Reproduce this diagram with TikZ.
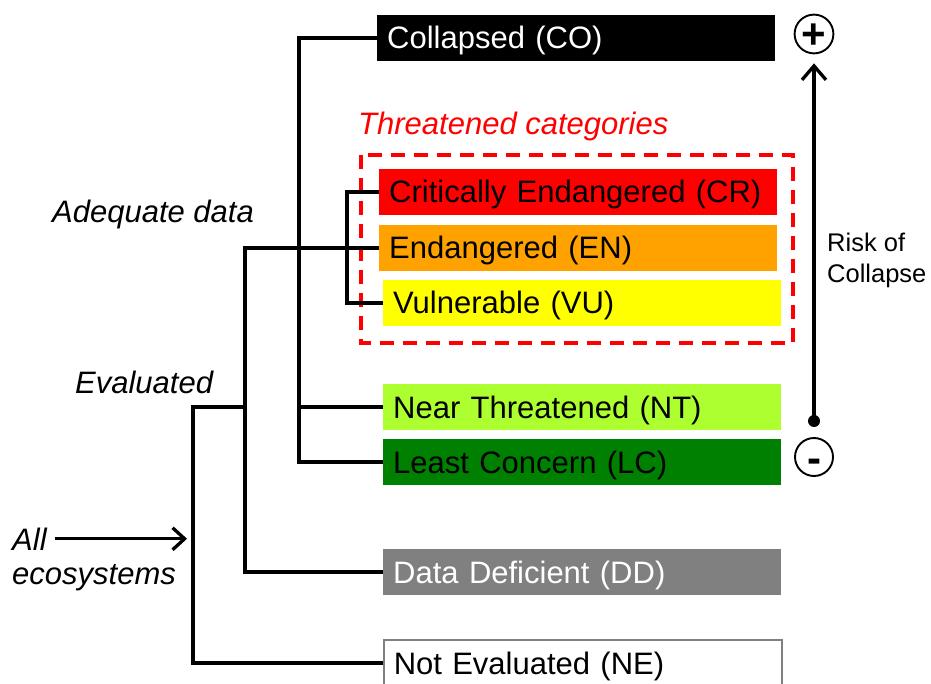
\documentclass[tikz,border=0pt]{standalone}
\usepackage{fontspec}
\setmainfont{Liberation Sans}
\usetikzlibrary{arrows.meta}
\definecolor{crcol}{RGB}{255,0,0}
\definecolor{encol}{RGB}{255,162,0}
\definecolor{vucol}{RGB}{255,255,0}
\definecolor{ntcol}{RGB}{173,255,47}
\definecolor{lccol}{RGB}{0,128,0}
\definecolor{ddcol}{RGB}{128,128,128}
\begin{document}
\begin{tikzpicture}[x=1pt,y=-1pt,
  cat/.style={rectangle, anchor=west, minimum width=398pt, minimum height=46pt,
    text width=378pt, inner xsep=10pt, inner ysep=0pt, align=left,
    text height=22pt, text depth=0pt,
    font=\fontsize{31}{36}\selectfont},
  lbl/.style={anchor=base west, inner sep=0pt, font=\fontsize{31}{36}\selectfont\itshape},
  risklbl/.style={anchor=base west, inner sep=0pt, font=\fontsize{25.5}{30}\selectfont},
  tree/.style={line width=3.3pt, line join=miter},
  pm/.style={circle, draw, line width=1.9pt, minimum size=38pt, inner sep=0pt,
    font=\fontsize{42}{44}\selectfont\bfseries, text depth=0pt},
]
\useasboundingbox (0,0) rectangle (931,684);

% category boxes
\node[cat, fill=black, text=white] (co) at (377,38) {Collapsed (CO)};
\node[cat, fill=crcol] (cr) at (379,192) {Critically Endangered (CR)};
\node[cat, fill=encol] (en) at (379,248) {Endangered (EN)};
\node[cat, fill=vucol] (vu) at (383,303) {Vulnerable (VU)};
\node[cat, fill=ntcol] (nt) at (383,407) {Near Threatened (NT)};
\node[cat, fill=lccol] (lc) at (383,462) {Least Concern (LC)};
\node[cat, fill=ddcol, text=white] (dd) at (383,572) {Data Deficient (DD)};
\node[cat, fill=white, draw=ddcol, line width=1.5pt] (ne) at (383,663) {Not Evaluated (NE)};

% threatened frame
\draw[crcol, line width=3.5pt, dash pattern=on 14pt off 9pt] (361,155) rectangle (793,343);
\node[anchor=base west, inner sep=0pt, text=crcol, font=\fontsize{31}{36}\selectfont\itshape] (thr) at (358,135) {Threatened categories};

% labels
\node[lbl] (adq) at (52,223) {Adequate data};
\node[lbl] (evl) at (75,393) {Evaluated};
\node[lbl] (all) at (12,550) {All};
\node[lbl] (eco) at (12,584) {ecosystems};

% junctions
\coordinate (ev) at (193,407);
\coordinate (ad) at (245,248);
\coordinate (cj) at (299,0);
\coordinate (tj) at (347,0);

% tree
\draw[tree] (ne.west) -| (ev) -- (ad |- ev);
\draw[tree] (dd.west) -| (ad) -- (en.west);
\draw[tree] (co.west) -| (cj |- lc.west) -- (lc.west);
\draw[tree] (cj |- nt.west) -- (nt.west);
\draw[tree] (cr.west) -| (tj |- vu.west) -- (vu.west);

% all ecosystems arrow
\draw[line width=3.3pt, -{Straight Barb[length=12pt,width=22pt]}] ([xshift=8pt]all.east) -- ([xshift=-6pt]ev |- all.east);

% risk axis
\node[pm, text height=30pt] (plus) at (814,34) {+};
\node[pm, text height=31.5pt] (minus) at (814,457) {-};
\node[circle, fill=black, inner sep=0pt, minimum size=12pt] (dot) at (814,421) {};
\draw[line width=3.3pt, shorten >=9pt, -{Straight Barb[length=14pt,width=24pt]}] (dot.center) -- (plus.south);
\node[risklbl] (r1) at (827,252) {Risk of};
\node[risklbl] (r2) at (827,283) {Collapse};
\end{tikzpicture}
\end{document}
